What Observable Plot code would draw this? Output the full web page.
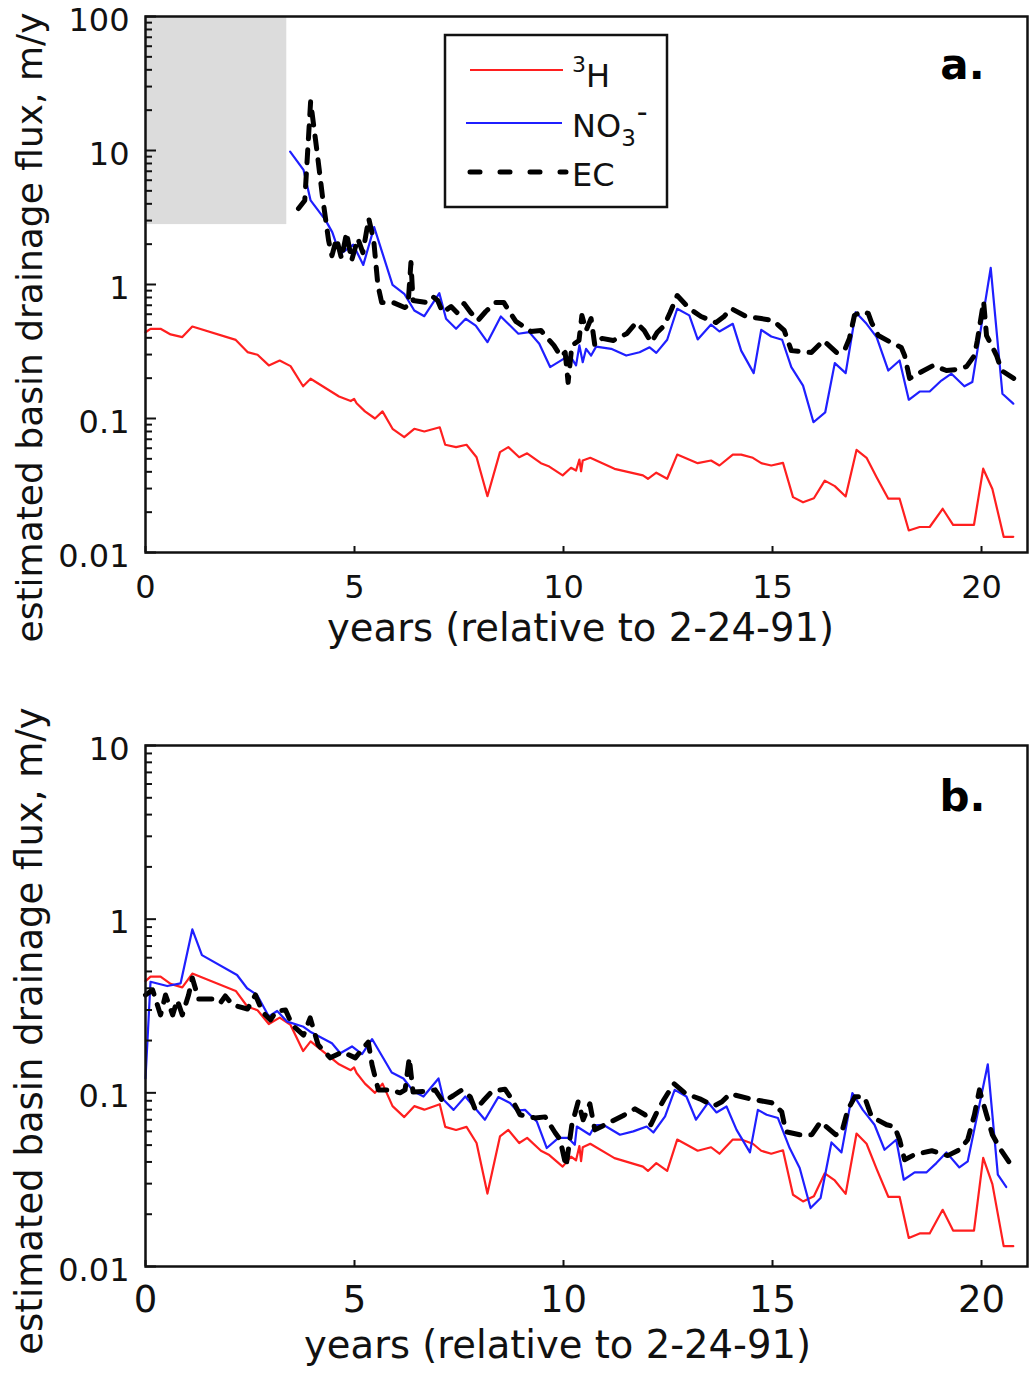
<!DOCTYPE html>
<html><head><meta charset="utf-8">
<script src="https://cdn.jsdelivr.net/npm/d3@7"></script>
<script src="https://cdn.jsdelivr.net/npm/@observablehq/plot@0.6"></script>
<style>body{margin:0;background:#fff;font-family:"DejaVu Sans"} svg{display:block}</style>
</head><body><div id="chart"></div>
<script>
// ---- data ----
const xTicks = [0, 5, 10, 15, 20];
const xTickLabels = ["0", "5", "10", "15", "20"];
const yTicksA = [0.01, 0.1, 1, 10, 100];
const yTickLabelsA = ["0.01", "0.1", "1", "10", "100"];
const yTicksB = [0.01, 0.1, 1, 10];
const yTickLabelsB = ["0.01", "0.1", "1", "10"];
const xLabel = "years (relative to 2-24-91)";
const yLabel = "estimated basin drainage flux, m/y";
const seriesNames = ["³H", "NO₃⁻", "EC"];
const shadeA = [{x1: 0, x2: 3.38, y1: 2.8, y2: 100}];

// 3H (same in both panels)
const h3Years = [0,0.12,0.36,0.6,0.88,1.12,2.16,2.44,2.68,2.95,3.21,3.47,3.77,3.95,4.63,4.91,4.99,5.05,5.25,5.49,5.67,5.91,6.19,6.43,6.67,7.04,7.17,7.43,7.68,7.92,8.18,8.48,8.68,8.94,9.13,9.46,9.66,9.98,10.18,10.30,10.38,10.42,10.46,10.64,11.22,11.90,12.02,12.22,12.48,12.72,13.21,13.53,13.73,14.05,14.25,14.53,14.73,14.97,15.25,15.49,15.73,15.99,16.25,16.49,16.75,17.01,17.25,17.49,17.77,18.04,18.26,18.52,18.76,19.07,19.32,19.82,20.04,20.26,20.53,20.76];
const h3Flux = [0.44,0.467,0.467,0.424,0.405,0.486,0.386,0.313,0.299,0.249,0.271,0.246,0.174,0.198,0.146,0.135,0.140,0.130,0.113,0.100,0.113,0.0838,0.0725,0.0838,0.080,0.086,0.0637,0.0611,0.0637,0.0514,0.0263,0.0561,0.0611,0.0514,0.055,0.0464,0.0438,0.0376,0.0429,0.0409,0.0494,0.0404,0.0486,0.0509,0.0421,0.0376,0.0355,0.0394,0.0355,0.0538,0.0464,0.0486,0.0446,0.0538,0.0538,0.0509,0.0464,0.0446,0.0467,0.0259,0.0237,0.0254,0.0344,0.0313,0.0262,0.0583,0.0509,0.0365,0.0252,0.0252,0.0146,0.0155,0.0155,0.0212,0.0161,0.0161,0.0422,0.0298,0.0131,0.0131];

// panel a: NO3-
const no3aYears = [3.46,3.78,3.95,4.31,4.47,4.65,4.97,5.21,5.47,5.91,6.19,6.43,6.67,7.03,7.19,7.43,7.66,7.90,8.18,8.50,8.92,9.18,9.42,9.68,10.06,10.18,10.30,10.38,10.46,10.54,10.66,10.78,11.14,11.50,11.82,12.06,12.22,12.48,12.72,13.01,13.21,13.53,13.73,14.05,14.25,14.55,14.73,14.97,15.23,15.45,15.73,15.98,16.26,16.49,16.75,16.99,17.25,17.49,17.77,18.04,18.26,18.52,18.76,19.04,19.28,19.59,19.78,20.22,20.50,20.76];
const no3aFlux = [9.8,7.17,4.24,3.01,2.45,1.68,1.98,1.40,2.68,0.995,0.853,0.640,0.580,0.861,0.555,0.467,0.555,0.494,0.371,0.577,0.429,0.441,0.361,0.242,0.286,0.286,0.249,0.351,0.263,0.331,0.295,0.344,0.331,0.295,0.312,0.340,0.309,0.387,0.659,0.588,0.389,0.502,0.446,0.509,0.321,0.218,0.459,0.409,0.387,0.242,0.176,0.0938,0.111,0.259,0.218,0.621,0.509,0.405,0.228,0.271,0.138,0.159,0.159,0.192,0.216,0.174,0.187,1.33,0.153,0.129];

// panel a: EC
const ecaYears = [3.66,3.81,3.95,4.10,4.24,4.38,4.46,4.57,4.69,4.81,4.93,5.08,5.20,5.34,5.46,5.56,5.65,5.92,6.20,6.28,6.35,6.40,6.71,6.87,6.99,7.11,7.31,7.45,7.62,7.78,7.95,8.14,8.38,8.57,8.72,8.86,9.05,9.22,9.46,9.58,9.77,9.94,10.04,10.11,10.20,10.37,10.44,10.54,10.66,10.75,10.92,11.19,11.52,11.74,11.93,12.10,12.24,12.41,12.55,12.72,13.01,13.29,13.65,13.84,14.01,14.37,14.73,15.02,15.28,15.45,15.93,16.22,16.53,16.72,16.84,16.96,17.13,17.29,17.37,17.53,17.84,18.08,18.16,18.28,18.49,18.85,19.16,19.40,19.64,19.83,19.90,20.05,20.12,20.24,20.36,20.48,20.77];
const ecaFlux = [3.69,4.24,23.2,10.0,4.38,2.13,1.64,2.20,1.56,2.44,1.51,2.20,1.73,3.11,2.13,0.984,0.735,0.735,0.673,0.697,1.46,0.760,0.735,0.813,0.760,0.618,0.685,0.618,0.721,0.618,0.538,0.629,0.735,0.735,0.618,0.530,0.486,0.446,0.454,0.409,0.351,0.290,0.311,0.186,0.351,0.382,0.588,0.454,0.557,0.351,0.396,0.382,0.431,0.520,0.454,0.369,0.438,0.494,0.618,0.827,0.662,0.577,0.520,0.577,0.662,0.577,0.557,0.538,0.454,0.321,0.311,0.382,0.311,0.321,0.396,0.588,0.629,0.608,0.520,0.416,0.369,0.339,0.295,0.199,0.217,0.249,0.228,0.232,0.244,0.295,0.382,0.746,0.416,0.351,0.295,0.228,0.199];

// panel b: NO3-
const no3bYears = [0,0.12,0.52,0.84,1.12,1.35,2.19,2.43,2.67,2.95,3.15,3.39,3.78,3.94,4.46,4.66,4.94,5.18,5.42,5.89,6.17,6.41,6.65,7.01,7.13,7.37,7.65,8.12,8.44,8.72,8.88,9.08,9.36,9.60,9.88,10.11,10.27,10.32,10.63,10.75,10.95,11.35,11.67,11.99,12.15,12.43,12.66,12.94,13.17,13.46,13.66,13.90,14.14,14.46,14.65,14.86,15.13,15.41,15.65,15.91,16.15,16.41,16.65,16.91,17.16,17.44,17.68,17.96,18.14,18.40,18.68,18.92,19.16,19.47,19.67,20.15,20.39,20.59];
const no3bFlux = [0.121,0.436,0.412,0.427,0.873,0.621,0.477,0.400,0.366,0.275,0.296,0.257,0.240,0.225,0.193,0.169,0.185,0.167,0.204,0.131,0.121,0.102,0.0952,0.121,0.0912,0.0798,0.0953,0.070,0.0945,0.0873,0.0791,0.0798,0.0684,0.0481,0.055,0.055,0.0502,0.064,0.0574,0.0649,0.0655,0.0574,0.060,0.064,0.0591,0.0731,0.104,0.0953,0.070,0.0879,0.0771,0.0834,0.0612,0.0454,0.0798,0.0748,0.0716,0.0481,0.0369,0.0217,0.0248,0.0518,0.0454,0.0996,0.0798,0.0655,0.047,0.0537,0.0316,0.0348,0.0348,0.0394,0.0454,0.0372,0.0403,0.146,0.0338,0.0287];

// panel b: EC
const ecbYears = [0,0.17,0.36,0.48,0.65,0.76,0.88,1.03,1.12,1.27,1.60,1.79,1.91,2.08,2.44,2.63,2.80,2.99,3.13,3.35,3.51,3.78,3.94,4.13,4.42,4.71,5.02,5.33,5.42,5.57,5.85,6.09,6.21,6.31,6.40,6.69,6.93,7.12,7.36,7.57,7.77,7.89,8.08,8.29,8.60,8.77,8.96,9.32,9.56,9.80,9.92,10.06,10.20,10.35,10.47,10.63,10.75,11.09,11.42,11.71,11.95,12.09,12.26,12.40,12.64,12.93,13.26,13.60,13.79,13.98,14.46,14.98,15.22,15.32,15.65,15.94,16.15,16.51,16.65,16.80,16.97,17.20,17.37,17.73,17.92,18.04,18.16,18.40,18.81,19.19,19.47,19.67,19.83,19.95,20.12,20.26,20.43,20.67];
const ecbFlux = [0.366,0.391,0.281,0.366,0.281,0.342,0.281,0.366,0.458,0.347,0.347,0.329,0.361,0.321,0.304,0.366,0.292,0.263,0.296,0.30,0.246,0.215,0.270,0.189,0.159,0.172,0.159,0.196,0.145,0.104,0.104,0.100,0.104,0.159,0.101,0.102,0.104,0.0888,0.0962,0.104,0.0948,0.0798,0.090,0.102,0.105,0.0912,0.0748,0.0717,0.0727,0.0589,0.0537,0.0376,0.0655,0.0888,0.070,0.0865,0.0612,0.0673,0.0738,0.0809,0.0748,0.0655,0.0798,0.0912,0.113,0.0987,0.0924,0.0841,0.0888,0.0987,0.0924,0.0877,0.0778,0.0597,0.0574,0.0574,0.0681,0.0574,0.0585,0.0798,0.0948,0.0948,0.0728,0.0655,0.0638,0.0537,0.0412,0.0441,0.0464,0.0435,0.047,0.0537,0.0748,0.104,0.0748,0.0574,0.0483,0.0396];

// ---- drawing ----
const W = 1029, ML = 145, MR = 2;
const xDomain = [0, 21.1];
const RED = "#ff1f1f", BLUE = "#1f1fff", INK = "#111";
const FONT = "DejaVu Sans";
const series = (xs, ys) => xs.map((x, i) => ({x, y: ys[i]}));

function panel(cfg) {
  const plotH = cfg.height - cfg.mt - cfg.mb, plotW = W - ML - MR;
  const decades = cfg.yTicks.slice(0, -1);
  const minor = decades.flatMap(d => [2,3,4,5,6,7,8,9].map(m => m * d));
  const yfmt = new Map(cfg.yTicks.map((t, i) => [t, cfg.yLabels[i]]));
  const xfmt = new Map(xTicks.map((t, i) => [t, xTickLabels[i]]));
  const marks = [];
  if (cfg.shade) marks.push(Plot.rect(cfg.shade, {x1: "x1", x2: "x2", y1: "y1", y2: "y2", fill: "#dcdcdc"}));
  marks.push(
    Plot.line(series(h3Years, h3Flux), {x: "x", y: "y", stroke: RED, strokeWidth: 2.2, strokeLinejoin: "round"}),
    Plot.line(cfg.no3, {x: "x", y: "y", stroke: BLUE, strokeWidth: 2.2, strokeLinejoin: "round"}),
    Plot.line(cfg.ec, {x: "x", y: "y", stroke: "#000", strokeWidth: 5, strokeDasharray: "13,11", strokeLinecap: "round", strokeLinejoin: "round"}),
    Plot.frame({stroke: INK, strokeWidth: 2.5}),
    Plot.tickY(cfg.yTicks, {y: d => d, insetRight: plotW - 11, stroke: INK, strokeWidth: 2}),
    Plot.tickY(minor, {y: d => d, insetRight: plotW - 7, stroke: INK, strokeWidth: 2}),
    Plot.tickX(xTicks, {x: d => d, insetTop: plotH - 6, stroke: INK, strokeWidth: 2}),
    Plot.axisY(cfg.yTicks, {tickSize: 0, tickPadding: 16, dy: 4, tickFormat: d => yfmt.get(d), fontSize: 32, label: null}),
    Plot.axisX(xTicks, {tickSize: 0, tickPadding: cfg.xpad, tickFormat: d => xfmt.get(d), fontSize: cfg.xfs, label: null}),
    Plot.text([yLabel], {text: d => d, frameAnchor: "left", rotate: -90, dx: -115, dy: cfg.ylabDy, fontSize: cfg.ylabFs, textAnchor: "middle", lineAnchor: "middle", fill: INK}),
    Plot.text([xLabel], {text: d => d, frameAnchor: "bottom", dx: cfg.xlabDx, dy: cfg.xlabDy, fontSize: cfg.xlabFs, textAnchor: "middle", lineAnchor: "middle", fill: INK}),
    Plot.text([cfg.letter], {text: d => d, frameAnchor: "top-right", dx: -65, dy: cfg.letterDy, fontSize: 42, fontWeight: "bold", textAnchor: "middle", lineAnchor: "middle", fill: "#000"})
  );
  return Plot.plot({
    width: W, height: cfg.height,
    marginLeft: ML, marginRight: MR, marginTop: cfg.mt, marginBottom: cfg.mb,
    x: {domain: xDomain, label: null},
    y: {type: "log", domain: cfg.yDomain, label: null},
    style: {fontFamily: FONT, color: INK, background: "#fff", overflow: "visible"},
    marks
  });
}

const svgA = panel({
  height: 690, mt: 16, mb: 138, yDomain: [0.01, 100], yTicks: yTicksA, yLabels: yTickLabelsA,
  shade: shadeA, no3: series(no3aYears, no3aFlux), ec: series(ecaYears, ecaFlux),
  xpad: 23, xfs: 32, ylabDy: 43, ylabFs: 36, xlabDx: -6, xlabDy: 76, xlabFs: 38.5, letter: "a.", letterDy: 49
});
const svgB = panel({
  height: 683, mt: 55, mb: 107, yDomain: [0.01, 10], yTicks: yTicksB, yLabels: yTickLabelsB,
  shade: null, no3: series(no3bYears, no3bFlux), ec: series(ecbYears, ecbFlux),
  xpad: 19, xfs: 37, ylabDy: 25, ylabFs: 37, xlabDx: -29, xlabDy: 79, xlabFs: 38.5, letter: "b.", letterDy: 52
});

// legend (panel a)
const lg = d3.select(svgA).append("g").attr("font-family", FONT).attr("fill", INK).attr("text-anchor", "start");
lg.append("rect").attr("x", 445).attr("y", 35).attr("width", 222).attr("height", 172)
  .attr("fill", "#fff").attr("stroke", INK).attr("stroke-width", 2.5);
const legendRows = [
  {name: seriesNames[0], stroke: RED, width: 2, dash: null, x1: 470, x2: 563, y: 70},
  {name: seriesNames[1], stroke: BLUE, width: 2.2, dash: null, x1: 466, x2: 562, y: 123},
  {name: seriesNames[2], stroke: "#000", width: 5, dash: "10,20", x1: 470, x2: 566, y: 172}
];
legendRows.forEach((r, i) => {
  const ln = lg.append("line").attr("x1", r.x1).attr("x2", r.x2).attr("y1", r.y).attr("y2", r.y)
    .attr("stroke", r.stroke).attr("stroke-width", r.width);
  if (r.dash) ln.attr("stroke-dasharray", r.dash).attr("stroke-linecap", "round");
  const t = lg.append("text").attr("x", 572).attr("y", r.y + 14).attr("font-size", 32);
  if (i === 0) {
    t.attr("y", r.y + 17);
    t.append("tspan").attr("font-size", 22).attr("dy", -15).text("3");
    t.append("tspan").attr("dy", 15).text("H");
  } else if (i === 1) {
    t.append("tspan").text("NO");
    t.append("tspan").attr("font-size", 23).attr("dy", 9).text("3");
    t.append("tspan").attr("font-size", 30).attr("dy", -24).attr("dx", 1).text("-");
  } else {
    t.text("EC");
  }
});

const root = document.getElementById("chart");
root.appendChild(svgA);
root.appendChild(svgB);
</script>
</body></html>
